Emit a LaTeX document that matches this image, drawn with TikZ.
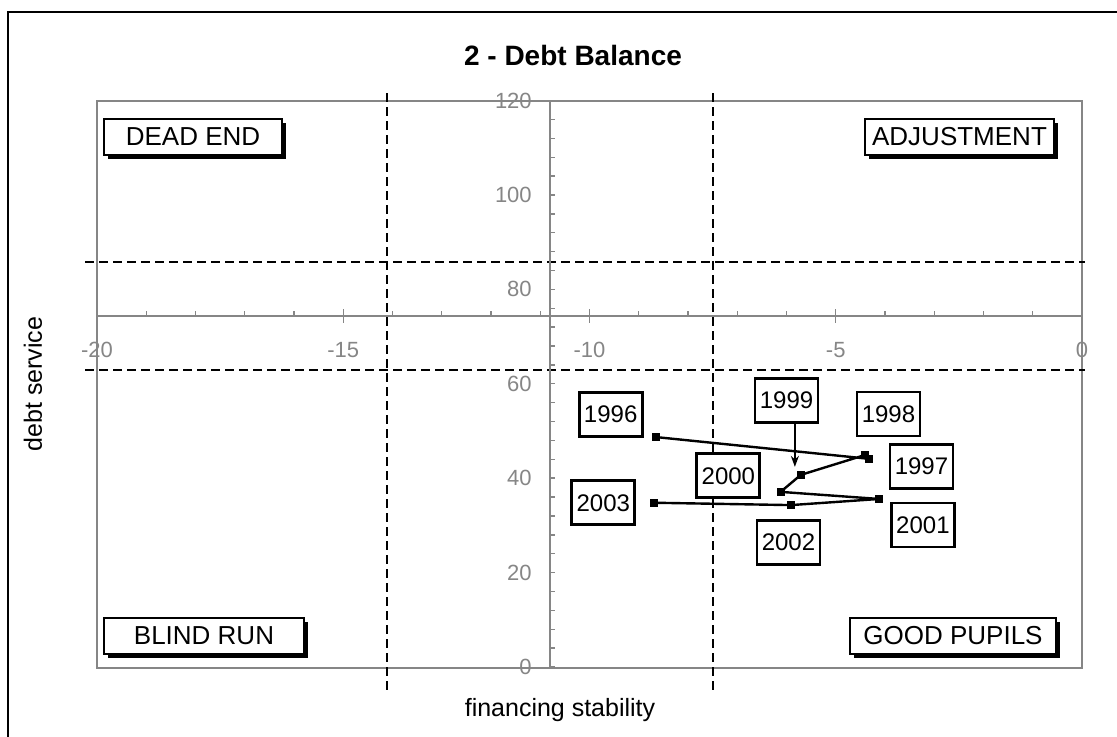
\documentclass[tikz,border=0pt]{standalone}
\usepackage{fontspec}
\setmainfont{Liberation Sans}
\usetikzlibrary{arrows.meta,shadows}
\definecolor{ink}{HTML}{000000}
\definecolor{axiscol}{HTML}{868686}

\begin{document}
\begin{tikzpicture}[
  x=0.5pt, y=0.5pt, >=Stealth, line join=miter,
  ttl/.style={font=\fontsize{14}{16}\selectfont\bfseries, text=ink},
  axttl/.style={font=\fontsize{12.5}{14}\selectfont, text=ink},
  ticklbl/.style={font=\fontsize{11}{13}\selectfont, text=axiscol, inner sep=0pt},
  axisline/.style={axiscol, line width=0.7pt},
  guide/.style={ink, line width=0.9pt, dash pattern=on 4.5pt off 2.5pt},
  quadrant/.style={draw=ink, line width=0.6pt, fill=white, minimum height=18pt,
    inner sep=0pt, font=\fontsize{13}{15}\selectfont,
    drop shadow={shadow xshift=1.8pt, shadow yshift=-1.8pt, fill=black, opacity=1}},
  yearlbl/.style={draw=ink, line width=1.4pt, fill=white, minimum width=31.5pt,
    minimum height=22pt, inner sep=0pt, font=\fontsize{12}{14}\selectfont},
  yrpt/.style={fill=ink, minimum size=4pt, inner sep=0pt},
  series/.style={ink, line width=1.2pt},
  callout/.style={ink, line width=0.9pt, -{Stealth[length=5.5pt, width=4pt]}}]

\useasboundingbox (0,0) rectangle (1117,737);

% outer frame, open to the right and below
\draw[ink, line width=1pt] (8,0) -- (8,725) -- (1117,725);

\node[ttl] (title) at (573,681) {2 - Debt Balance};

% plot area
\draw[axiscol, line width=0.8pt] (97,69) rectangle (1082,636);

% ============================================== data space
\begin{scope}[shift={(1082,70)}, x=24.625pt, y=2.36pt]
  % quadrant borders
  \draw[guide] (-20.24,85.8) -- (0.06,85.8);
  \draw[guide] (-20.24,62.9) -- (0.06,62.9);
  \draw[guide] (-14.11,121.6) -- (-14.11,-4.9);
  \draw[guide] (-7.49,121.6) -- (-7.49,-4.9);

  % horizontal axis
  \draw[axisline] (-20,74.4) -- (0,74.4);
  \foreach \v in {-19,...,-1}
    \draw[axisline] (\v,74.4) -- ++(0,2.5pt);
  \foreach \v in {-20,-15,-10,-5,0} {
    \draw[axisline] (\v,74.4) ++(0,-3.5pt) -- ++(0,7pt);
    \node[ticklbl] (xl\v) at (\v,67.2) {\v};
  }

  % vertical axis
  \draw[axisline] (-10.8,0) -- (-10.8,120);
  \foreach \v in {0,4,...,120}
    \draw[axisline] (-10.8,\v) -- ++(2.5pt,0);
  \foreach \v in {0,20,...,120}
    \node[ticklbl, anchor=east, xshift=-9pt] (yl\v) at (-10.8,\v) {\v};

  % the yearly path
  \foreach \n/\x/\y in {1996/-8.64/48.7, 1997/-4.32/44.1, 1998/-4.41/44.9,
      1999/-5.71/40.7, 2000/-6.12/37.1, 2001/-4.12/35.6, 2002/-5.91/34.3,
      2003/-8.70/34.8}
    \coordinate (p\n) at (\x,\y);
  \draw[series] (p1996) \foreach \n in {1997,...,2003} { -- (p\n) };
  \foreach \n in {1996,...,2003}
    \node[yrpt] (m\n) at (p\n) {};

  % year tags
  \node[yearlbl] (l1996) at (-9.57,53.5) {1996};
  \node[yearlbl] (l1997) at (-3.26,42.5) {1997};
  \node[yearlbl] (l1998) at (-3.93,53.6) {1998};
  \node[yearlbl] (l1999) at (-6.00,56.5) {1999};
  \node[yearlbl] (l2000) at (-7.18,40.5) {2000};
  \node[yearlbl] (l2001) at (-3.23,30.1) {2001};
  \node[yearlbl] (l2002) at (-5.96,26.4) {2002};
  \node[yearlbl] (l2003) at (-9.72,34.8) {2003};

  \coordinate (tip1999) at (-5.83,42.4);
  \draw[callout] (l1999.south -| tip1999) -- (tip1999);
\end{scope}

% ============================================== quadrant names
\node[quadrant, minimum width=89pt]  (deadend)    at (193,600)   {DEAD END};
\node[quadrant, minimum width=94.5pt] (adjust)    at (959.5,600) {ADJUSTMENT};
\node[quadrant, minimum width=100pt] (blindrun)   at (204,101)   {BLIND RUN};
\node[quadrant, minimum width=103pt] (goodpupils) at (953,101)   {GOOD PUPILS};

% axis titles
\node[axttl, rotate=90] (ytitle) at (33,353) {debt service};
\node[axttl] (xtitle) at (560,27) {financing stability};

\end{tikzpicture}
\end{document}
